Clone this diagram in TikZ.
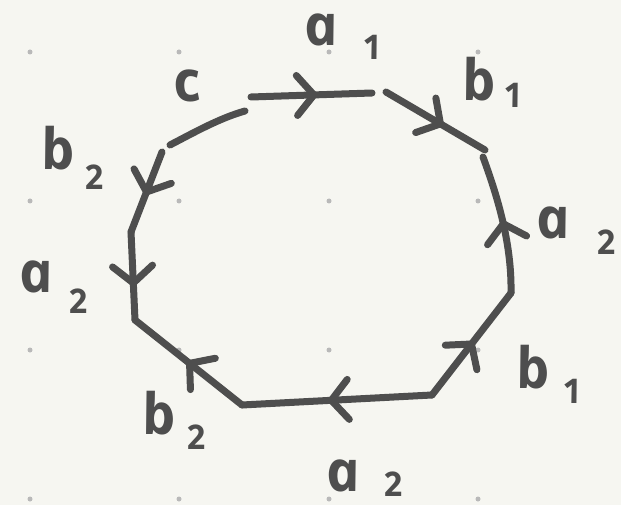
\documentclass[tikz,border=0pt]{standalone}
\usepackage{fontspec}
\newfontfamily\handfont{Open Sans}
\usetikzlibrary{decorations.markings}
\definecolor{ink}{RGB}{78,78,78}
\definecolor{paper}{RGB}{246,246,241}
\definecolor{griddot}{RGB}{185,185,185}
\tikzset{
  edge/.style={draw=ink, line width=7pt, line cap=round, line join=round},
  midarrow/.style={postaction={decorate, decoration={markings,
      mark=at position #1 with {\draw[edge] (-17pt,20pt) -- (0pt,0pt) -- (-17pt,-20pt);}}}},
  letter/.style={text=ink, inner sep=0pt,
      font=\handfont\bfseries\itshape\fontsize{57}{57}\selectfont,
      xslant=-0.2, transform shape},
  digit/.style={letter, font=\handfont\bfseries\itshape\fontsize{34}{34}\selectfont},
  gdot/.style={fill=griddot, draw=none},
}
\begin{document}
\begin{tikzpicture}[x=1pt,y=-1pt]
\useasboundingbox (0,0) rectangle (621,505);
\fill[paper] (0,0) rectangle (621,505);
% grid dots
\foreach \gx in {30,179,329,478}{
  \foreach \gy in {52,201,350,499}{
    \fill[gdot] (\gx,\gy) circle (2.5pt);
  }
}
% vertices
\coordinate (v1a) at (162,152);
\coordinate (v1b) at (170,145);
\coordinate (v2a) at (245,111);
\coordinate (v2b) at (251,97);
\coordinate (v3a) at (372,93);
\coordinate (v3b) at (386,92);
\coordinate (v4a) at (485,150);
\coordinate (v4b) at (483,157);
\coordinate (v5) at (511,293);
\coordinate (v6) at (432,395);
\coordinate (v7) at (242,405);
\coordinate (v8) at (135,320);
\coordinate (v9) at (131,232);
% edges
\draw[edge] (v1b) .. controls (195,132) and (220,118) .. (v2a);
\draw[edge, midarrow=0.52] (v2b) -- (v3a);
\draw[edge, midarrow=0.55] (v3b) -- (v4a);
\draw[edge, midarrow=0.5] (v5) .. controls (512,240) and (495,190) .. (v4b);
\draw[edge, midarrow=0.5] (v6) -- (v5);
\draw[edge, midarrow=0.53] (v6) -- (v7);
\draw[edge, midarrow=0.49] (v7) -- (v8);
\draw[edge, midarrow=0.58] (v9) -- (v8);
\draw[edge, midarrow=0.5] (v1a) -- (v9);
% labels
\path (187,86) node[letter] (lc) {c};
\path (321,30) node[letter] (la1) {a};
\path (372,47) node[digit] (la1s) {1};
\path (478,79) node[letter] (lb1) {b};
\path (513,95) node[digit] (lb1s) {1};
\path (57,148) node[letter] (lb2) {b};
\path (94,177) node[digit] (lb2s) {2};
\path (553,223) node[letter] (la2r) {a};
\path (606,242) node[digit] (la2rs) {2};
\path (36,277) node[letter] (la2l) {a};
\path (78,301) node[digit] (la2ls) {2};
\path (532,367) node[letter] (lb1b) {b};
\path (572,391) node[digit] (lb1bs) {1};
\path (158,413) node[letter] (lb2b) {b};
\path (196,437) node[digit] (lb2bs) {2};
\path (343,476) node[letter] (la2b) {a};
\path (393,484) node[digit] (la2bs) {2};
\end{tikzpicture}
\end{document}
